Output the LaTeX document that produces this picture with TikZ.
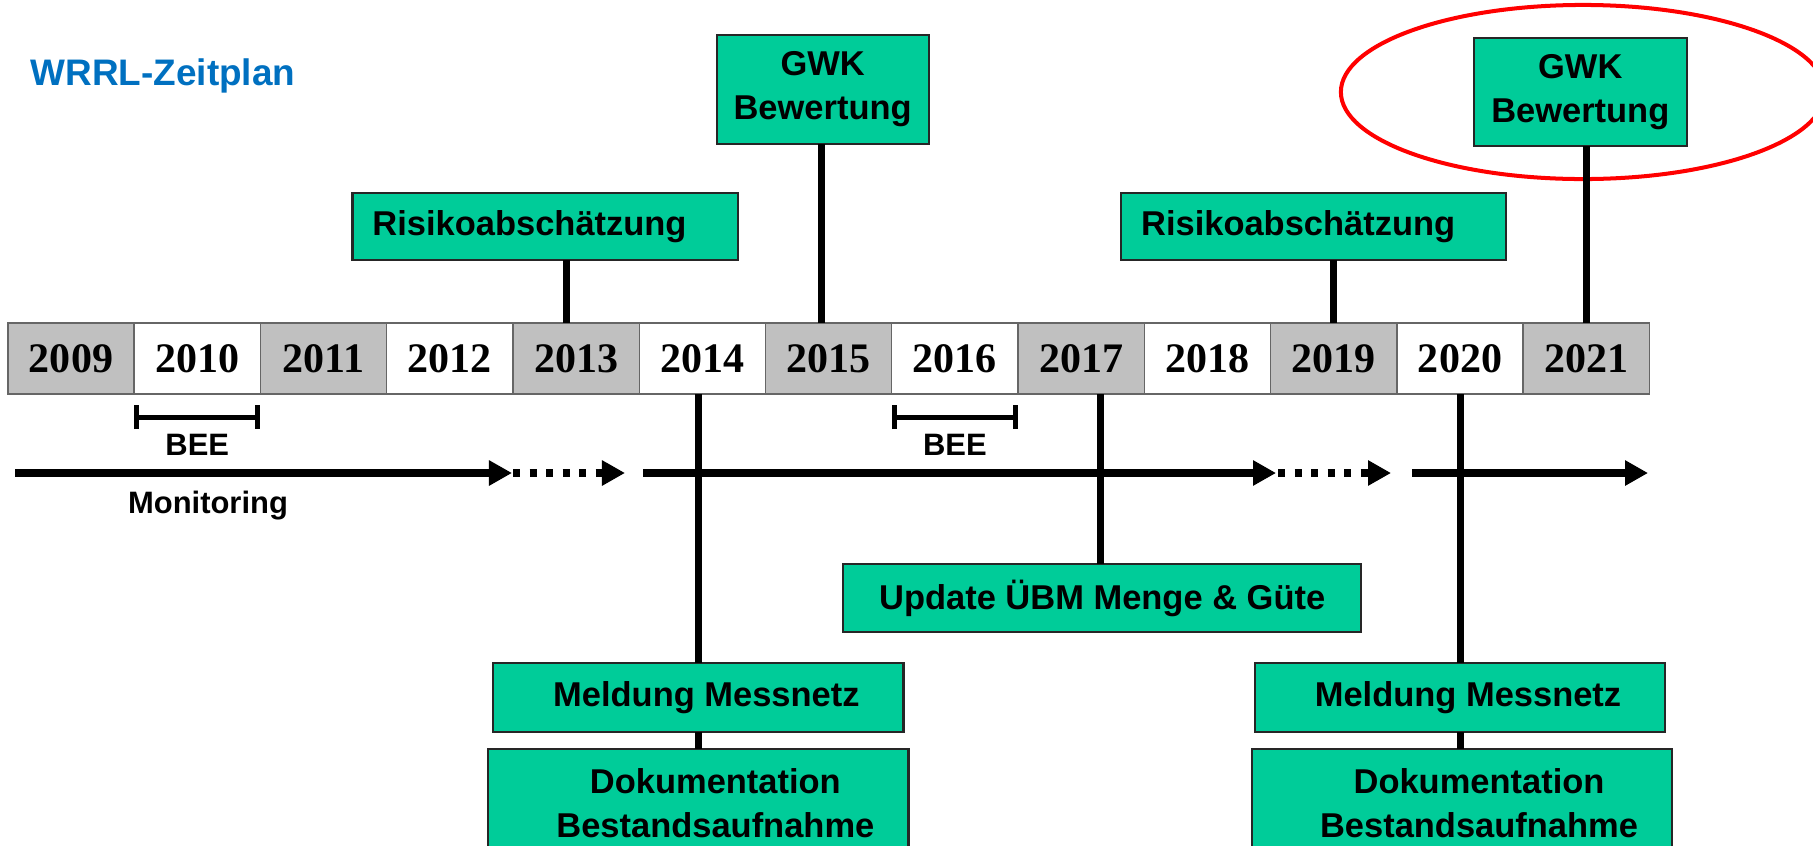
\documentclass[tikz,border=0pt]{standalone}
\usepackage{fontspec}
\setmainfont{Liberation Sans}
\newfontfamily\yearfont{Liberation Serif}
\usetikzlibrary{positioning,arrows.meta,shapes}
\definecolor{boxgreen}{RGB}{0,204,153}
\definecolor{titleblue}{RGB}{0,112,192}
\definecolor{yeargray}{RGB}{192,192,192}
\tikzstyle{year}=[rectangle,draw=black!60,line width=0.4pt,fill=white,
minimum width=1.262cm,minimum height=0.71cm,inner sep=0pt,outer sep=0pt,
font=\yearfont\bfseries\fontsize{11.95}{14}\selectfont]
\tikzstyle{gyear}=[year,fill=yeargray]
\tikzstyle{task}=[rectangle,draw=black!85,line width=0.6pt,fill=boxgreen,
inner sep=0pt,outer sep=0pt,align=center,font=\bfseries\fontsize{9.8}{12.4}\selectfont]
\tikzstyle{lbl}=[inner sep=0pt,font=\bfseries\fontsize{8.8}{10}\selectfont]
\tikzstyle{conn}=[line width=2pt]
\tikzstyle{span}=[line width=1.4pt,{Bar[width=0.24cm]}-{Bar[width=0.24cm]}]
\tikzstyle{monline}=[line width=2pt,-{Triangle[length=0.23cm,width=0.24cm]}]
\tikzstyle{mondots}=[monline,dash pattern=on 0.07cm off 0.095cm]

\begin{document}
\begin{tikzpicture}[x=0.01cm,y=-0.01cm]
            \useasboundingbox (0,0) rectangle (1813,845);
            \clip (0,0) rectangle (1813,845);

            \node[anchor=base west,inner sep=0pt,text=titleblue,
                  font=\bfseries\fontsize{10.5}{12}\selectfont] (title) at (30,85) {WRRL-Zeitplan};

            % YEARS

            \node[gyear] (y09) at (71,358.5) {2009};
            \node[year, right=0pt of y09] (y10) {2010};
            \node[gyear,right=0pt of y10] (y11) {2011};
            \node[year, right=0pt of y11] (y12) {2012};
            \node[gyear,right=0pt of y12] (y13) {2013};
            \node[year, right=0pt of y13] (y14) {2014};
            \node[gyear,right=0pt of y14] (y15) {2015};
            \node[year, right=0pt of y15] (y16) {2016};
            \node[gyear,right=0pt of y16] (y17) {2017};
            \node[year, right=0pt of y17] (y18) {2018};
            \node[gyear,right=0pt of y18] (y19) {2019};
            \node[year, right=0pt of y19] (y20) {2020};
            \node[gyear,right=0pt of y20] (y21) {2021};

            % TOP PART

            \node[draw=red,line width=1.14pt,ellipse,minimum width=4.84cm,
                  minimum height=1.74cm] (ring) at (1583,92) {};

            \node[task, above=0.63cm of y13, xshift=-0.31cm, minimum height=0.67cm,
                  text width=3.45cm, align=left, inner xsep=0.2cm] (r1) {Risikoabschätzung};
            \node[task, above=1.79cm of y15, xshift=-0.06cm, minimum width=2.12cm,
                  minimum height=1.09cm] (g1) {GWK\\Bewertung};
            \node[task, above=0.63cm of y19, xshift=-0.2cm, minimum height=0.67cm,
                  text width=3.45cm, align=left, inner xsep=0.2cm] (r2) {Risikoabschätzung};
            \node[task, above=1.77cm of y21, xshift=-0.06cm, minimum width=2.13cm,
                  minimum height=1.08cm] (g2) {GWK\\Bewertung};

            \coordinate (c13) at ([xshift=-0.1cm]y13.north);
            \coordinate (c15) at ([xshift=-0.07cm]y15.north);
            \draw[conn] (c13) -- (c13 |- r1.south);
            \draw[conn] (c15) -- (c15 |- g1.south);
            \draw[conn] (y19.north) -- (y19.north |- r2.south);
            \draw[conn] (y21.north) -- (y21.north |- g2.south);

            % BEE

            \draw[span] ([yshift=-0.23cm]y10.south west) -- ([yshift=-0.23cm]y10.south east);
            \draw[span] ([yshift=-0.23cm]y16.south west) -- ([yshift=-0.23cm]y16.south east);
            \node[lbl] (bee1) at ([yshift=-0.51cm]y10.south) {BEE};
            \node[lbl] (bee2) at ([yshift=-0.51cm]y16.south) {BEE};

            % MONITORING

            \coordinate (k1) at (15,473);
            \coordinate (k2) at (512,473);
            \coordinate (k3) at (513,473);
            \coordinate (k4) at (625,473);
            \coordinate (k5) at (643,473);
            \coordinate (k6) at (1276,473);
            \coordinate (k7) at (1278,473);
            \coordinate (k8) at (1391,473);
            \coordinate (k9) at (1412,473);
            \coordinate (k10) at (1648,473);

            \draw[monline] (k1) -- (k2);
            \draw[mondots] (k3) -- (k4);
            \draw[monline] (k5) -- (k6);
            \draw[mondots] (k7) -- (k8);
            \draw[monline] (k9) -- (k10);
            \node[lbl, anchor=base] (mon) at (208,513) {Monitoring};

            % BOTTOM PART

            \node[task, below=1.70cm of y17, xshift=0.21cm, minimum width=5.18cm,
                  minimum height=0.68cm] (u1) {Update ÜBM Menge \& Güte};
            \node[task, below=2.69cm of y14, xshift=-0.04cm, minimum width=4.10cm,
                  minimum height=0.69cm] (m1) {\hspace*{0.16cm}Meldung Messnetz};
            \node[task, below=0.17cm of m1, minimum width=4.20cm,
                  minimum height=1.08cm] (d1) {\hspace*{0.34cm}Dokumentation\\\hspace*{0.34cm}Bestandsaufnahme};
            \node[task, below=2.69cm of y20, minimum width=4.10cm,
                  minimum height=0.69cm] (m2) {\hspace*{0.16cm}Meldung Messnetz};
            \node[task, below=0.17cm of m2, xshift=0.02cm, minimum width=4.20cm,
                  minimum height=1.08cm] (d2) {\hspace*{0.34cm}Dokumentation\\\hspace*{0.34cm}Bestandsaufnahme};

            \coordinate (c17) at ([xshift=0.19cm]y17.south);
            \draw[conn] (c17) -- (c17 |- u1.north);
            \draw[conn] (m1.north) -- (m1.north |- y14.south);
            \draw[conn] (m1.south) -- (d1.north);
            \draw[conn] (m2.north) -- (m2.north |- y20.south);
            \draw[conn] (m2.south) -- (m2.south |- d2.north);

        \end{tikzpicture}
\end{document}
